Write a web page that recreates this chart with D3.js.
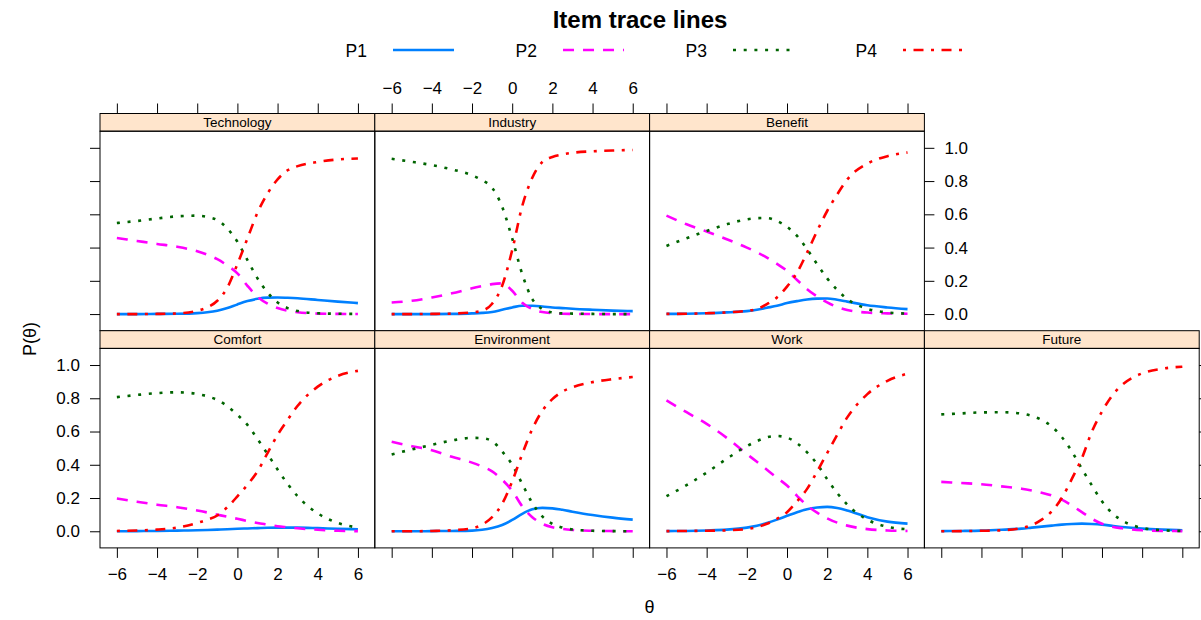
<!DOCTYPE html>
<html lang="en">
<head>
<meta charset="UTF-8">
<title>Item trace lines</title>
<script src="https://d3js.org/d3.v7.min.js"></script>
<style>
  body { margin: 0; background: #fff; font-family: "Liberation Sans", Arial, sans-serif; }
  .tick line { stroke: #000; }
  .tick text { fill: #000; font-size: 17px; font-family: "Liberation Sans", Arial, sans-serif; }
</style>
</head>
<body>
<div id="chart"></div>
<script>
// theta grid the curves were read at
const theta = [-6, -5, -4, -3, -2, -1.5, -1, -0.5, 0, 0.5, 1, 1.5, 2, 2.5, 3, 4, 5, 6];
const seriesNames = ["P1", "P2", "P3", "P4"];
const xTicks = [-6, -4, -2, 0, 2, 4, 6];
const yTicks = [0, 0.2, 0.4, 0.6, 0.8, 1.0];

// rows: P1, P2, P3, P4 for each item
const technology = [
  [0, 0, 0.001, 0.002, 0.006, 0.011, 0.02, 0.036, 0.058, 0.078, 0.092, 0.099, 0.1, 0.098, 0.095, 0.085, 0.075, 0.066],
  [0.458, 0.44, 0.422, 0.405, 0.378, 0.357, 0.33, 0.292, 0.245, 0.17, 0.105, 0.063, 0.036, 0.02, 0.011, 0.003, 0.001, 0],
  [0.548, 0.56, 0.575, 0.588, 0.592, 0.584, 0.565, 0.515, 0.435, 0.325, 0.215, 0.13, 0.07, 0.036, 0.018, 0.005, 0.002, 0.001],
  [0, 0, 0.001, 0.004, 0.02, 0.04, 0.08, 0.16, 0.3, 0.455, 0.61, 0.725, 0.81, 0.865, 0.89, 0.915, 0.93, 0.936]
];
const industry = [
  [0, 0, 0, 0.001, 0.004, 0.007, 0.013, 0.026, 0.04, 0.05, 0.05, 0.046, 0.04, 0.036, 0.032, 0.026, 0.021, 0.018],
  [0.07, 0.08, 0.1, 0.125, 0.155, 0.168, 0.18, 0.185, 0.14, 0.068, 0.03, 0.012, 0.005, 0.002, 0.001, 0, 0, 0],
  [0.934, 0.916, 0.896, 0.87, 0.835, 0.805, 0.76, 0.645, 0.455, 0.24, 0.09, 0.03, 0.01, 0.004, 0.003, 0.001, 0, 0],
  [0, 0, 0.001, 0.003, 0.01, 0.02, 0.062, 0.17, 0.385, 0.65, 0.82, 0.915, 0.945, 0.96, 0.97, 0.979, 0.984, 0.987]
];
const benefit = [
  [0.001, 0.002, 0.005, 0.01, 0.018, 0.026, 0.038, 0.05, 0.066, 0.078, 0.088, 0.093, 0.094, 0.086, 0.075, 0.053, 0.04, 0.03],
  [0.592, 0.54, 0.497, 0.45, 0.4, 0.372, 0.34, 0.302, 0.26, 0.205, 0.15, 0.106, 0.07, 0.042, 0.024, 0.009, 0.004, 0.002],
  [0.41, 0.456, 0.5, 0.54, 0.57, 0.577, 0.578, 0.56, 0.525, 0.47, 0.39, 0.3, 0.215, 0.145, 0.09, 0.032, 0.01, 0.003],
  [0.001, 0.002, 0.005, 0.01, 0.02, 0.03, 0.06, 0.1, 0.165, 0.25, 0.37, 0.5, 0.62, 0.72, 0.81, 0.905, 0.95, 0.972]
];
const comfort = [
  [0, 0.001, 0.002, 0.004, 0.006, 0.008, 0.01, 0.012, 0.015, 0.017, 0.019, 0.021, 0.022, 0.022, 0.022, 0.019, 0.015, 0.012],
  [0.197, 0.178, 0.16, 0.145, 0.125, 0.113, 0.1, 0.087, 0.075, 0.062, 0.05, 0.04, 0.03, 0.024, 0.018, 0.009, 0.003, 0.001],
  [0.807, 0.82, 0.831, 0.836, 0.826, 0.812, 0.79, 0.752, 0.7, 0.64, 0.555, 0.465, 0.372, 0.285, 0.21, 0.108, 0.05, 0.022],
  [0.002, 0.005, 0.01, 0.022, 0.05, 0.07, 0.095, 0.145, 0.21, 0.28, 0.36, 0.47, 0.58, 0.67, 0.755, 0.87, 0.935, 0.965]
];
const environment = [
  [0, 0, 0.001, 0.002, 0.004, 0.009, 0.02, 0.038, 0.068, 0.105, 0.132, 0.141, 0.138, 0.129, 0.118, 0.098, 0.082, 0.07],
  [0.538, 0.512, 0.487, 0.448, 0.413, 0.39, 0.36, 0.31, 0.243, 0.15, 0.085, 0.045, 0.024, 0.014, 0.008, 0.003, 0.001, 0],
  [0.462, 0.492, 0.52, 0.546, 0.562, 0.56, 0.542, 0.48, 0.4, 0.285, 0.17, 0.09, 0.045, 0.022, 0.011, 0.003, 0.001, 0],
  [0, 0, 0.002, 0.006, 0.018, 0.04, 0.085, 0.165, 0.3, 0.465, 0.615, 0.725, 0.795, 0.84, 0.866, 0.897, 0.915, 0.928]
];
const work = [
  [0.001, 0.002, 0.005, 0.01, 0.022, 0.033, 0.05, 0.07, 0.093, 0.115, 0.133, 0.143, 0.147, 0.14, 0.125, 0.085, 0.058, 0.046],
  [0.787, 0.716, 0.646, 0.562, 0.465, 0.418, 0.37, 0.322, 0.275, 0.213, 0.155, 0.112, 0.078, 0.052, 0.034, 0.013, 0.005, 0.002],
  [0.211, 0.277, 0.353, 0.436, 0.512, 0.542, 0.565, 0.573, 0.563, 0.53, 0.475, 0.405, 0.313, 0.23, 0.16, 0.07, 0.027, 0.012],
  [0.001, 0.002, 0.003, 0.006, 0.013, 0.025, 0.045, 0.075, 0.115, 0.18, 0.255, 0.36, 0.47, 0.58, 0.685, 0.825, 0.905, 0.948]
];
const future = [
  [0.001, 0.002, 0.004, 0.009, 0.016, 0.022, 0.028, 0.034, 0.04, 0.044, 0.046, 0.044, 0.04, 0.033, 0.026, 0.016, 0.01, 0.006],
  [0.297, 0.29, 0.283, 0.27, 0.256, 0.245, 0.232, 0.215, 0.19, 0.155, 0.115, 0.075, 0.045, 0.028, 0.018, 0.006, 0.002, 0.001],
  [0.703, 0.709, 0.715, 0.716, 0.708, 0.694, 0.67, 0.63, 0.567, 0.48, 0.376, 0.275, 0.18, 0.11, 0.065, 0.02, 0.006, 0.002],
  [0, 0.001, 0.003, 0.006, 0.02, 0.037, 0.07, 0.12, 0.2, 0.315, 0.44, 0.6, 0.72, 0.815, 0.88, 0.95, 0.978, 0.99]
];

// panel name, data, row, column (lattice order: top row first here)
const panels = [
  { name: "Technology", data: technology, row: 0, col: 0 },
  { name: "Industry", data: industry, row: 0, col: 1 },
  { name: "Benefit", data: benefit, row: 0, col: 2 },
  { name: "Comfort", data: comfort, row: 1, col: 0 },
  { name: "Environment", data: environment, row: 1, col: 1 },
  { name: "Work", data: work, row: 1, col: 2 },
  { name: "Future", data: future, row: 1, col: 3 }
];

const width = 1201, height = 620;
const leftX = 100, colW = 274.8;
const topY = 113.5, stripH = 17.7, dataH = 199.5;
const rowH = stripH + dataH;

const colors = ["#0080ff", "#ff00ff", "#006400", "#ff0000"];
const dashes = [null, "11,9", "3,7.7", "3,7.5,10,7.5"];

const x = d3.scaleLinear().domain([-6.84, 6.84]).range([0, colW]);
const y = d3.scaleLinear().domain([-0.1, 1.1]).range([dataH, 0]);

const svg = d3.select("#chart").append("svg")
  .attr("width", width)
  .attr("height", height);

// title
svg.append("text")
  .attr("x", 640).attr("y", 28)
  .attr("text-anchor", "middle")
  .style("font-size", "24px").style("font-weight", "bold")
  .text("Item trace lines");

// legend
const legend = svg.append("g");
seriesNames.forEach((s, i) => {
  const tx = 367 + i * 170;
  legend.append("text")
    .attr("x", tx).attr("y", 51).attr("dy", "0.35em")
    .attr("text-anchor", "end")
    .style("font-size", "17.5px")
    .text(s);
  legend.append("line")
    .attr("x1", tx + 26).attr("x2", tx + 87)
    .attr("y1", 50).attr("y2", 50)
    .attr("stroke", colors[i])
    .attr("stroke-width", 2.6)
    .attr("stroke-dasharray", dashes[i]);
});

const line = d3.line()
  .x((d, i) => x(theta[i]))
  .y(d => y(d))
  .curve(d3.curveMonotoneX);

panels.forEach(p => {
  const g = svg.append("g")
    .attr("transform", `translate(${leftX + p.col * colW},${topY + p.row * rowH})`);

  // strip
  g.append("rect")
    .attr("width", colW).attr("height", stripH)
    .attr("fill", "#ffe5cc").attr("stroke", "#000");
  g.append("text")
    .attr("x", colW / 2).attr("y", stripH / 2).attr("dy", "0.35em")
    .attr("text-anchor", "middle")
    .style("font-size", "13.5px")
    .text(p.name);

  const body = g.append("g").attr("transform", `translate(0,${stripH})`);

  body.selectAll("path.curve")
    .data(p.data)
    .join("path")
    .attr("class", "curve")
    .attr("d", line)
    .attr("fill", "none")
    .attr("stroke", (d, i) => colors[i])
    .attr("stroke-width", 2.6)
    .attr("stroke-dasharray", (d, i) => dashes[i]);

  body.append("rect")
    .attr("width", colW).attr("height", dataH)
    .attr("fill", "none").attr("stroke", "#000");

  // axes, lattice style: alternating labels
  const fmtY = d3.format(".1f");
  if (p.row === 0) {
    const ax = g.append("g")
      .call(d3.axisTop(x).tickValues(xTicks).tickSize(10).tickPadding(10).tickSizeOuter(0)
        .tickFormat(p.col === 1 ? null : ""));
    ax.select(".domain").remove();
  }
  if (p.row === 1) {
    const ax = body.append("g")
      .attr("transform", `translate(0,${dataH})`)
      .call(d3.axisBottom(x).tickValues(xTicks).tickSize(10).tickPadding(10).tickSizeOuter(0)
        .tickFormat(p.col === 0 || p.col === 2 ? null : ""));
    ax.select(".domain").remove();
  }
  if (p.col === 0) {
    const ax = body.append("g")
      .call(d3.axisLeft(y).tickValues(yTicks).tickSize(10).tickPadding(10).tickSizeOuter(0)
        .tickFormat(p.row === 1 ? fmtY : ""));
    ax.select(".domain").remove();
  }
  if ((p.row === 0 && p.col === 2) || (p.row === 1 && p.col === 3)) {
    const ax = body.append("g")
      .attr("transform", `translate(${colW},0)`)
      .call(d3.axisRight(y).tickValues(yTicks).tickSize(10).tickPadding(10).tickSizeOuter(0)
        .tickFormat(p.row === 0 ? fmtY : ""));
    ax.select(".domain").remove();
  }
});

// axis titles
svg.append("text")
  .attr("transform", "translate(30,339) rotate(-90)")
  .attr("text-anchor", "middle").attr("dy", "0.35em")
  .style("font-size", "18px")
  .text("P(θ)");
svg.append("text")
  .attr("x", leftX + 2 * colW).attr("y", 607).attr("dy", "0.35em")
  .attr("text-anchor", "middle")
  .style("font-size", "18px")
  .text("θ");
</script>
</body>
</html>
